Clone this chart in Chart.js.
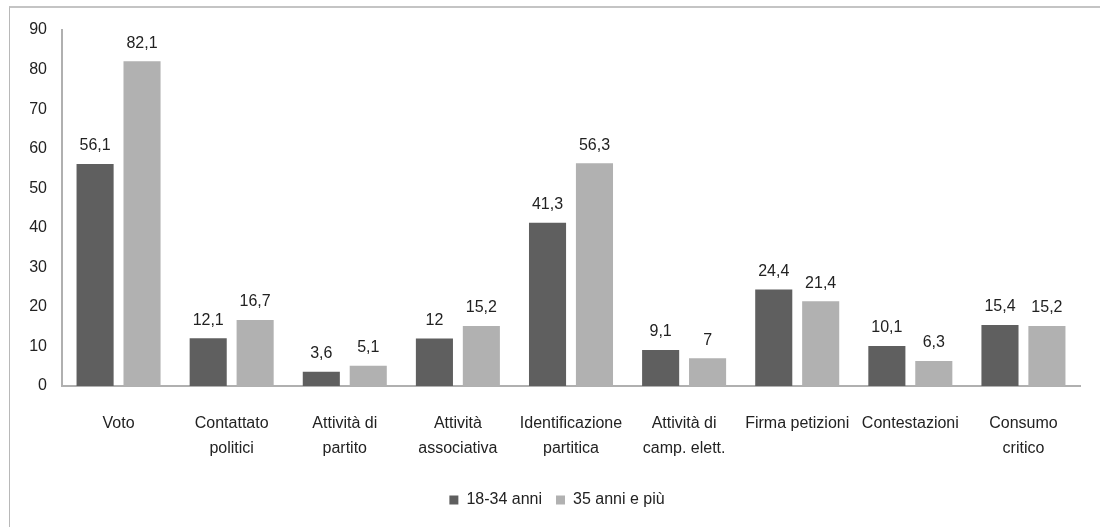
<!DOCTYPE html>
<html>
<head>
<meta charset="utf-8">
<script src="https://cdn.jsdelivr.net/npm/chart.js@4.4.1/dist/chart.umd.min.js"></script>
<style>
html,body{margin:0;padding:0;background:#fff;overflow:hidden;}
#wrap{position:relative;width:1100px;height:527px;}
#frame{position:absolute;left:9px;top:6px;width:1200px;height:600px;border-left:1px solid #b8b8b8;border-top:2px solid #c4c4c4;}
canvas{position:absolute;left:0;top:0;}
</style>
</head>
<body>
<div id="wrap">
<div id="frame"></div>
<canvas id="c" width="1100" height="527"></canvas>
</div>
<script>
const categories = [
  "Voto",
  ["Contattato", "politici"],
  ["Attività di", "partito"],
  ["Attività", "associativa"],
  ["Identificazione", "partitica"],
  ["Attività di", "camp. elett."],
  "Firma petizioni",
  "Contestazioni",
  ["Consumo", "critico"]
];
const seriesNames = ["18-34 anni", "35 anni e più"];
const young = [56.1, 12.1, 3.6, 12, 41.3, 9.1, 24.4, 10.1, 15.4];
const older = [82.1, 16.7, 5.1, 15.2, 56.3, 7, 21.4, 6.3, 15.2];
const yTicks = [0, 10, 20, 30, 40, 50, 60, 70, 80, 90];

const FONT = '"Liberation Sans Narrow", "Liberation Sans", Arial, sans-serif';
const TXT = '#222222';

const labelPlugin = {
  id: 'valLabels',
  afterLayout(chart) {
    const lg = chart.legend;
    if (lg) { lg.left += 17; lg.right += 17; }
  },
  afterDatasetsDraw(chart) {
    const ctx = chart.ctx;
    ctx.save();
    ctx.font = '16px ' + FONT;
    ctx.fillStyle = TXT;
    ctx.textAlign = 'center';
    ctx.textBaseline = 'bottom';
    chart.data.datasets.forEach((ds, i) => {
      const meta = chart.getDatasetMeta(i);
      meta.data.forEach((bar, j) => {
        const txt = String(ds.data[j]).replace('.', ',');
        ctx.fillText(txt, bar.x, bar.y - 10);
      });
    });
    ctx.restore();
  }
};

new Chart(document.getElementById('c'), {
  type: 'bar',
  data: {
    labels: categories,
    datasets: [
      { label: seriesNames[0], data: young, backgroundColor: '#5f5f5f',
        categoryPercentage: 0.83, barPercentage: 0.79 },
      { label: seriesNames[1], data: older, backgroundColor: '#b1b1b1',
        categoryPercentage: 0.83, barPercentage: 0.79 }
    ]
  },
  options: {
    responsive: false,
    animation: false,
    layout: { padding: { left: 0, right: 20, top: 30, bottom: 9 } },
    plugins: {
      legend: {
        position: 'bottom',
        labels: {
          boxWidth: 9, boxHeight: 9, padding: 14,
          color: TXT,
          font: { family: FONT, size: 16 }
        }
      },
      tooltip: { enabled: false }
    },
    scales: {
      x: {
        grid: { display: false, drawTicks: false },
        border: { display: true, color: '#b0b0b0', width: 2 },
        ticks: { color: TXT, font: { family: FONT, size: 16, lineHeight: 1.55 }, padding: 25, maxRotation: 0, autoSkip: false },
        afterFit(s) { s.height = 92; }
      },
      y: {
        min: 0, max: 90,
        grid: { display: false, drawTicks: false },
        border: { display: true, color: '#b0b0b0', width: 2 },
        afterBuildTicks(s) { s.ticks = yTicks.map(v => ({ value: v })); },
        ticks: { color: TXT, font: { family: FONT, size: 16 }, padding: 15 },
        afterFit(s) { s.width = 62; }
      }
    }
  },
  plugins: [labelPlugin]
});
</script>
</body>
</html>
